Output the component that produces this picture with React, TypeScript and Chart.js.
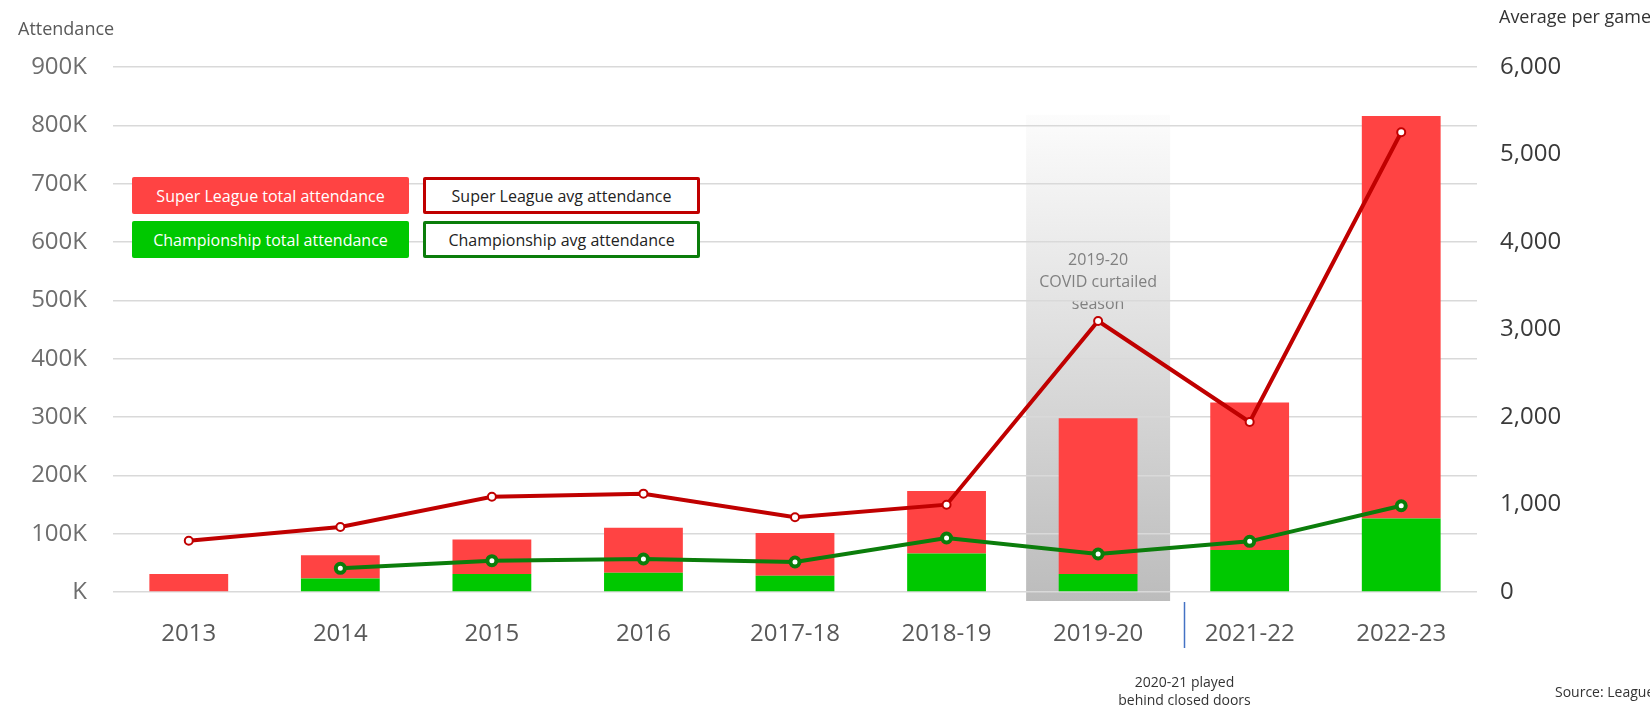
import React, { useEffect, useRef } from 'react';
import { Chart, registerables } from 'chart.js';

Chart.register(...registerables);

const seasons = ['2013', '2014', '2015', '2016', '2017-18', '2018-19', '2019-20', '2021-22', '2022-23'];
// Championship total attendance (bottom of each stacked bar)
const championshipTotal = [0, 23000, 31000, 33000, 28000, 66000, 31000, 72000, 126000];
// Super League total attendance (stacked on top of the Championship part)
const superLeagueTotal = [31000, 40000, 59000, 77000, 73000, 107000, 267000, 253000, 690000];
// Average per game
const superLeagueAvg = [586, 743, 1089, 1124, 854, 998, 3097, 1943, 5254];
const championshipAvg = [null, 271, 358, 377, 343, 617, 434, 579, 986];

const leftTickLabels = ['K', '100K', '200K', '300K', '400K', '500K', '600K', '700K', '800K', '900K'];
const rightTickLabels = ['0', '1,000', '2,000', '3,000', '4,000', '5,000', '6,000'];

const covidSeason = '2019-20';
const covidNote = ['2019-20', 'COVID curtailed', 'season'];
const closedDoorsNote = ['2020-21 played', 'behind closed doors'];
const sourceNote = 'Source: League websites';

const FONT = '"Open Sans", "Noto Sans", sans-serif';

const RED_BAR = '#ff4343';
const GREEN_BAR = '#00c800';
const RED_LINE = '#c00000';
const GREEN_LINE = '#0b7d0b';

const annotationsPlugin = {
  id: 'annotations',
  beforeDraw(chart: any) {
    const { ctx, scales } = chart;
    const x = scales.x;
    const y = scales.y;
    const idx = seasons.indexOf(covidSeason);
    const cx = x.getPixelForValue(idx);
    const catW = x.getPixelForValue(1) - x.getPixelForValue(0);
    const w = catW * 0.95;
    const top = y.getPixelForValue(818000);
    const bottom = y.getPixelForValue(0) + 9;
    ctx.save();
    const g = ctx.createLinearGradient(0, top, 0, bottom);
    g.addColorStop(0, '#fcfcfc');
    g.addColorStop(1, '#bcbcbc');
    ctx.fillStyle = g;
    ctx.fillRect(cx - w / 2, top, w, bottom - top);
    ctx.fillStyle = '#808080';
    ctx.font = `16px ${FONT}`;
    ctx.textAlign = 'center';
    ctx.textBaseline = 'middle';
    covidNote.forEach((t, i) => ctx.fillText(t, cx, 260 + i * 22));
    // titles
    ctx.textAlign = 'left';
    ctx.fillStyle = '#595959';
    ctx.font = `18px ${FONT}`;
    ctx.fillText('Attendance', 18, 30);
    ctx.fillStyle = '#333333';
    ctx.fillText('Average per game', 1499, 18);
    ctx.restore();
  },
  afterDraw(chart: any) {
    const { ctx, scales } = chart;
    const x = scales.x;
    const y = scales.y;
    const idx = seasons.indexOf(covidSeason);
    const catW = x.getPixelForValue(1) - x.getPixelForValue(0);
    const lx = Math.round(x.getPixelForValue(idx) + catW * 0.57) + 0.5;
    const y0 = y.getPixelForValue(0);
    ctx.save();
    ctx.strokeStyle = '#4472c4';
    ctx.lineWidth = 1.5;
    ctx.beginPath();
    ctx.moveTo(lx, y0 + 10);
    ctx.lineTo(lx, y0 + 56);
    ctx.stroke();
    ctx.fillStyle = '#333333';
    ctx.font = `14px ${FONT}`;
    ctx.textAlign = 'center';
    ctx.textBaseline = 'middle';
    closedDoorsNote.forEach((t, i) => ctx.fillText(t, lx, 683 + i * 18));
    ctx.textAlign = 'left';
    ctx.fillText(sourceNote, 1555, 693);
    ctx.restore();
  },
};

const legendItems = [
  { label: 'Super League total attendance', left: 132, top: 177, bg: RED_BAR, color: '#ffffff', border: 'none' },
  { label: 'Championship total attendance', left: 132, top: 221, bg: GREEN_BAR, color: '#ffffff', border: 'none' },
  { label: 'Super League avg attendance', left: 423, top: 177, bg: '#ffffff', color: '#222222', border: `3px solid ${RED_LINE}` },
  { label: 'Championship avg attendance', left: 423, top: 221, bg: '#ffffff', color: '#222222', border: `3px solid ${GREEN_LINE}` },
];

export default function App() {
  const canvasRef = useRef<HTMLCanvasElement | null>(null);

  useEffect(() => {
    if (!canvasRef.current) return;
    const chart = new Chart(canvasRef.current, {
      type: 'bar',
      data: {
        labels: seasons,
        datasets: [
          {
            type: 'line',
            label: 'Super League avg attendance',
            data: superLeagueAvg,
            yAxisID: 'y1',
            borderColor: RED_LINE,
            borderWidth: 4,
            pointRadius: 4,
            pointBorderWidth: 2,
            pointBackgroundColor: '#ffffff',
            pointBorderColor: RED_LINE,
            tension: 0,
            order: 1,
          } as any,
          {
            type: 'line',
            label: 'Championship avg attendance',
            data: championshipAvg,
            yAxisID: 'y1',
            borderColor: GREEN_LINE,
            borderWidth: 4,
            pointRadius: 4.5,
            pointBorderWidth: 4,
            pointBackgroundColor: '#ffffff',
            pointBorderColor: GREEN_LINE,
            tension: 0,
            order: 0,
          } as any,
          {
            type: 'bar',
            label: 'Championship total attendance',
            data: championshipTotal,
            backgroundColor: GREEN_BAR,
            stack: 'total',
            yAxisID: 'y',
            barPercentage: 0.52,
            categoryPercentage: 1,
            order: 3,
          },
          {
            type: 'bar',
            label: 'Super League total attendance',
            data: superLeagueTotal,
            backgroundColor: RED_BAR,
            stack: 'total',
            yAxisID: 'y',
            barPercentage: 0.52,
            categoryPercentage: 1,
            order: 3,
          },
        ],
      },
      options: {
        responsive: false,
        animation: false,
        layout: { padding: { top: 67, left: 0, right: 0, bottom: 0 } },
        plugins: {
          legend: { display: false },
          tooltip: { enabled: false },
        },
        scales: {
          x: {
            stacked: true,
            grid: { display: false },
            border: { display: false },
            ticks: {
              font: { family: FONT, size: 24 },
              color: '#595959',
              padding: 20,
              maxRotation: 0,
            },
            afterFit: (s: any) => {
              s.height = 114;
            },
          },
          y: {
            type: 'linear',
            position: 'left',
            stacked: true,
            min: 0,
            max: 900000,
            grid: { color: '#d9d9d9', lineWidth: 1.5, drawTicks: false },
            border: { display: false },
            ticks: {
              stepSize: 100000,
              font: { family: FONT, size: 24 },
              color: '#6e6e6e',
              padding: 26,
              callback: (v: any) => leftTickLabels[Math.round(Number(v) / 100000)],
            },
            afterFit: (s: any) => {
              s.width = 113;
            },
          },
          y1: {
            type: 'linear',
            position: 'right',
            min: 0,
            max: 6000,
            grid: { display: false, drawTicks: false },
            border: { display: false },
            ticks: {
              stepSize: 1000,
              font: { family: FONT, size: 24 },
              color: '#3a3a3a',
              padding: 23,
              callback: (v: any) => rightTickLabels[Math.round(Number(v) / 1000)],
            },
            afterFit: (s: any) => {
              s.width = 173;
            },
          },
        },
      },
      plugins: [annotationsPlugin],
    } as any);
    return () => chart.destroy();
  }, []);

  return (
    <div style={{ position: 'absolute', left: 0, top: 0, width: 1650, height: 706, background: '#ffffff', overflow: 'hidden' }}>
      <canvas ref={canvasRef} width={1650} height={706} style={{ display: 'block' }} />
      {legendItems.map((it) => (
        <div
          key={it.label}
          style={{
            position: 'absolute',
            left: it.left,
            top: it.top,
            width: 277,
            height: 37,
            boxSizing: 'border-box',
            background: it.bg,
            border: it.border,
            borderRadius: 2,
            color: it.color,
            fontFamily: FONT,
            fontSize: 16,
            display: 'flex',
            alignItems: 'center',
            justifyContent: 'center',
            whiteSpace: 'nowrap',
          }}
        >
          {it.label}
        </div>
      ))}
    </div>
  );
}
